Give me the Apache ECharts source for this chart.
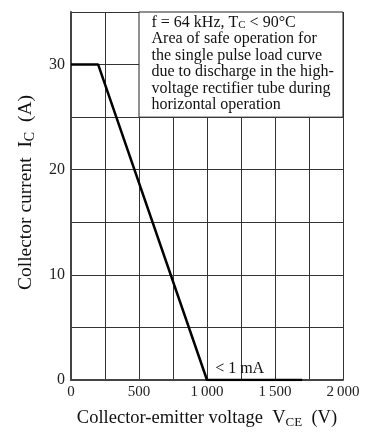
<!DOCTYPE html>
<html><head><meta charset="utf-8">
<script src="https://cdn.jsdelivr.net/npm/echarts@6/dist/echarts.min.js"></script>
<style>html,body{margin:0;padding:0;background:#fff}#c{width:377px;height:437px}</style>
</head><body><div id="c"></div>
<script>
const voltage = [0, 200, 1000, 1700];
const current = [30, 30, 0, 0];
const xTicks = [0, 500, 1000, 1500, 2000];
const yTicks = [0, 10, 20, 30];
const noteLines = [
  '{n|f = 64 kHz, T}{s|C}{n| < 90°C}',
  '{n|Area of safe operation for}',
  '{n|the single pulse load curve}',
  '{n|due to discharge in the high-}',
  '{n|voltage rectifier tube during}',
  '{n|horizontal operation}'
];
const noteBox = [[500, 35], [2000, 25]];
const leakLabel = {text: '< 1 mA', v: 1240, i: 1.1};

const F = '"Liberation Serif","Times New Roman",serif';
const chart = echarts.init(document.getElementById('c'));
chart.setOption({
  animation: false,
  backgroundColor: '#fff',
  grid: {left: 71, right: 34, top: 12, bottom: 57, show: false},
  xAxis: {
    type: 'value', min: 0, max: 2000, interval: 250,
    axisLine: {show: true, onZero: false, lineStyle: {color: '#444', width: 2}},
    axisTick: {show: false},
    splitLine: {show: true, lineStyle: {color: '#333', width: 1}},
    axisLabel: {
      fontFamily: F, fontSize: 15, color: '#222', margin: 5,
      formatter: v => xTicks.includes(v) ? (v >= 1000 ? Math.floor(v/1000) + '\u2009' + String(v % 1000).padStart(3, '0') : String(v)) : ''
    },
    name: '{n|Collector-emitter voltage  V}{s|CE}{n|  (V)}',
    nameLocation: 'middle', nameGap: 28,
    nameTextStyle: {rich: {
      n: {fontFamily: F, fontSize: 18.5, color: '#111'},
      s: {fontFamily: F, fontSize: 13, color: '#111', verticalAlign: 'bottom', padding: [8, 0, 0, 0]}
    }}
  },
  yAxis: {
    type: 'value', min: 0, max: 35, interval: 5,
    axisLine: {show: true, lineStyle: {color: '#444', width: 2}},
    axisTick: {show: false},
    splitLine: {show: true, lineStyle: {color: '#333', width: 1}},
    axisLabel: {
      fontFamily: F, fontSize: 16, color: '#222', margin: 6,
      formatter: v => yTicks.includes(v) ? String(v) : ''
    },
    name: '{n|Collector current  I}{s|C}{n|  (A)}',
    nameLocation: 'middle', nameGap: 34, nameRotate: 90,
    nameTextStyle: {padding: [0, 0, 0, 7], rich: {
      n: {fontFamily: F, fontSize: 19.5, color: '#111'},
      s: {fontFamily: F, fontSize: 14, color: '#111', verticalAlign: 'bottom', padding: [8, 0, 0, 0]}
    }}
  },
  series: [{
    type: 'line',
    data: voltage.map((v, k) => [v, current[k]]),
    symbol: 'none',
    lineStyle: {color: '#000', width: 2.5},
    z: 5,
    markArea: {
      silent: true,
      itemStyle: {color: '#fff', borderColor: '#222', borderWidth: 1},
      label: {
        show: true, position: 'insideTopLeft', distance: 0,
        padding: [3, 0, 0, 13],
        formatter: noteLines.join('\n'),
        rich: {
          n: {fontFamily: F, fontSize: 16, color: '#111', lineHeight: 16.5},
          s: {fontFamily: F, fontSize: 11, color: '#111', lineHeight: 16.5, verticalAlign: 'bottom', padding: [5, 0, 0, 0]}
        }
      },
      data: [[{coord: noteBox[0]}, {coord: noteBox[1]}]]
    }
  }, {
    type: 'scatter',
    data: [[leakLabel.v, leakLabel.i]],
    symbolSize: 0,
    itemStyle: {color: '#000', opacity: 1},
    silent: true,
    z: 6,
    label: {show: true, position: 'inside', fontFamily: F, fontSize: 16, color: '#111', opacity: 1, textBorderWidth: 0, formatter: leakLabel.text}
  }]
});
</script></body></html>
